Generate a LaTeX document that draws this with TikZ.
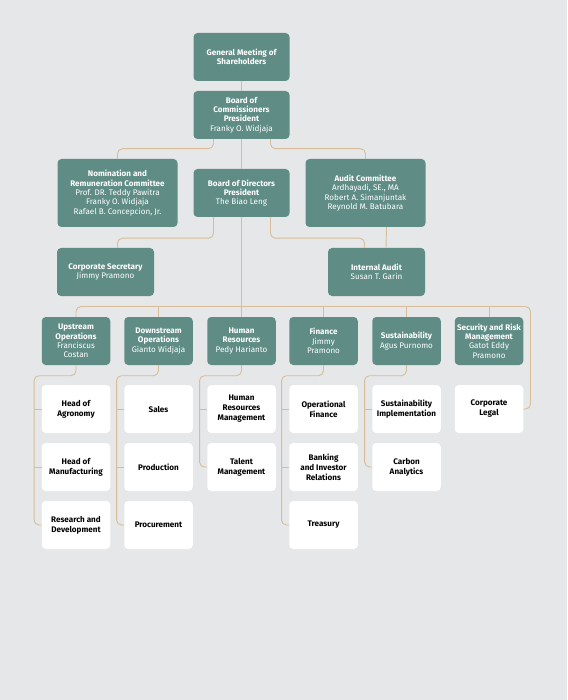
\documentclass[tikz,border=0pt]{standalone}
\usepackage{fontspec}
\setmainfont{Fira Sans}
\definecolor{bgc}{HTML}{E6E7E8}
\definecolor{boxteal}{HTML}{5F8D86}
\definecolor{linec}{HTML}{D8BD98}
\newcommand{\nmx}[1]{{\mdseries #1}}
\begin{document}
\begin{tikzpicture}[x=1pt,y=-1pt,
  tbox/.style={fill=boxteal, rounded corners=4pt, text=white, align=center,
    font=\fontsize{8.1}{9.4}\selectfont\bfseries, minimum height=48pt, inner sep=1pt},
  wbox/.style={fill=white, rounded corners=4pt, text=black, align=center,
    font=\fontsize{8.1}{10}\selectfont\bfseries, minimum width=68.5pt, minimum height=48pt, inner sep=1pt},
  dbox/.style={tbox, minimum width=68.5pt},
  conn/.style={draw=linec, line width=0.9pt, rounded corners=5pt}]
\fill[bgc] (0,0) rectangle (567,700);
\useasboundingbox (0,0) rectangle (567,700);

\coordinate (busR) at (530.5,306.5);

% top nodes
\node[tbox, minimum width=96pt] (gms) at (241.5,57) {General Meeting of\\Shareholders};
\node[tbox, minimum width=96pt] (boc) at (241.5,115) {Board of\\Commissioners\\President\\\nmx{Franky O. Widjaja}};
\node[tbox, minimum width=120pt, minimum height=68pt] (nom) at (117.5,193) {Nomination and\\Remuneration Committee\\\nmx{Prof. DR. Teddy Pawitra}\\\nmx{Franky O. Widjaja}\\\nmx{Rafael B. Concepcion, Jr.}};
\node[tbox, minimum width=96pt] (bod) at (241.5,193) {Board of Directors\\President\\\nmx{The Biao Leng}};
\node[tbox, minimum width=120pt, minimum height=68pt] (ac) at (365.5,193) {Audit Committee\\\nmx{Ardhayadi, SE., MA}\\\nmx{Robert A. Simanjuntak}\\\nmx{Reynold M. Batubara}};
\node[tbox, minimum width=97pt] (cs) at (105.5,272) {Corporate Secretary\\\nmx{Jimmy Pramono}};
\node[tbox, minimum width=97pt] (ia) at (376.5,272) {Internal Audit\\\nmx{Susan T. Garin}};

% divisions
\node[dbox] (d1) at (76,341) {Upstream\\Operations\\\nmx{Franciscus}\\\nmx{Costan}};
\node[dbox] (d2) at (158.5,341) {Downstream\\Operations\\\nmx{Gianto Widjaja}};
\node[dbox] (d3) at (241.5,341) {Human\\Resources\\\nmx{Pedy Harianto}};
\node[dbox] (d4) at (323.5,341) {Finance\\\nmx{Jimmy}\\\nmx{Pramono}};
\node[dbox] (d5) at (406.5,341) {Sustainability\\\nmx{Agus Purnomo}};
\node[dbox] (d6) at (489,341) {Security and Risk\\Management\\\nmx{Gatot Eddy}\\\nmx{Pramono}};

% sub units
\node[wbox] (s11) at (76,409) {Head of\\Agronomy};
\node[wbox] (s12) at (76,467) {Head of\\Manufacturing};
\node[wbox] (s13) at (76,525) {Research and\\Development};
\node[wbox] (s21) at (158.5,409) {Sales};
\node[wbox] (s22) at (158.5,467) {Production};
\node[wbox] (s23) at (158.5,525) {Procurement};
\node[wbox] (s31) at (241.5,409) {Human\\Resources\\Management};
\node[wbox] (s32) at (241.5,467) {Talent\\Management};
\node[wbox] (s41) at (323.5,409) {Operational\\Finance};
\node[wbox] (s42) at (323.5,467) {Banking\\and Investor\\Relations};
\node[wbox] (s43) at (323.5,525) {Treasury};
\node[wbox] (s51) at (406.5,409) {Sustainability\\Implementation};
\node[wbox] (s52) at (406.5,467) {Carbon\\Analytics};
\node[wbox] (s61) at (489,409) {Corporate\\Legal};

% top connectors
\draw[conn] (gms) -- (boc);
\draw[conn] (boc) -- (bod);
\draw[conn] ([xshift=-28pt]boc.south) -- ++(0,9.5) -| (nom.north);
\draw[conn] ([xshift=29pt]boc.south) -- ++(0,9.5) -| (ac.north);
\draw[conn] ([xshift=-28pt]bod.south) -- ++(0,21) -| ([xshift=12pt]cs.north);
\draw[conn] ([xshift=29pt]bod.south) -- ++(0,21) -| ([xshift=-12pt]ia.north);
\draw[conn] ([xshift=21pt]ac.south) -- ([xshift=9.5pt]ia.north);

% bus
\draw[conn] (bod.south) -- (bod.south |- busR);
\draw[conn] (d1.north) |- (busR) |- (s61.east);
\foreach \d in {d2,d3,d4,d5,d6}{\draw[conn] (\d.north) -- (\d.north |- busR);}

% sub connectors
\draw[conn] (d1.south) -- ++(0,10.5) -| ([xshift=-7.5pt]s13.west) -- (s13.west);
\draw[conn] (s11.west) -- ++(-7.5,0);
\draw[conn] (s12.west) -- ++(-7.5,0);
\draw[conn] (d2.south) -- ++(0,10.5) -| ([xshift=-7.5pt]s23.west) -- (s23.west);
\draw[conn] (s21.west) -- ++(-7.5,0);
\draw[conn] (s22.west) -- ++(-7.5,0);
\draw[conn] (d3.south) -- ++(0,10.5) -| ([xshift=-7.5pt]s32.west) -- (s32.west);
\draw[conn] (s31.west) -- ++(-7.5,0);
\draw[conn] (d4.south) -- ++(0,10.5) -| ([xshift=-7.5pt]s43.west) -- (s43.west);
\draw[conn] (s41.west) -- ++(-7.5,0);
\draw[conn] (s42.west) -- ++(-7.5,0);
\draw[conn] (d5.south) -- ++(0,10.5) -| ([xshift=-7.5pt]s52.west) -- (s52.west);
\draw[conn] (s51.west) -- ++(-7.5,0);
\end{tikzpicture}
\end{document}
